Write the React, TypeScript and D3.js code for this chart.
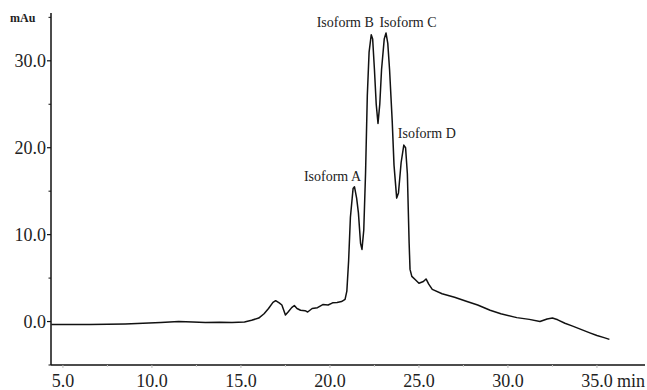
import React from "react";
import * as d3 from "d3";

const timeMin = [
  4.35, 5.5, 6.5, 7.5, 8.5, 9.5, 10.5, 11.5, 12.3, 13.0, 13.8, 14.5, 15.2, 15.6, 16.0, 16.3, 16.55, 16.8, 16.95,
  17.15, 17.3, 17.5, 17.65, 17.85, 18.0, 18.15, 18.35, 18.6, 18.75, 19.0, 19.3, 19.6, 19.9, 20.15, 20.4, 20.65,
  20.85, 20.95, 21.05, 21.15, 21.3, 21.38, 21.5, 21.6, 21.72, 21.8, 21.9, 22.0, 22.1, 22.2, 22.32, 22.4, 22.5,
  22.6, 22.7, 22.8, 22.9, 23.05, 23.15, 23.25, 23.35, 23.5, 23.6, 23.75, 23.85, 24.0, 24.15, 24.25, 24.35, 24.45,
  24.5, 24.6, 24.8, 25.0, 25.25, 25.4, 25.55, 25.75, 26.3, 27.0, 27.7, 28.3, 29.0, 29.6, 30.5, 31.2, 31.8, 32.2,
  32.5, 32.8, 33.2, 33.6, 34.1, 34.6, 35.0, 35.4, 35.7,
];
const absorbance = [
  -0.35, -0.35, -0.33, -0.3, -0.27, -0.2, -0.12, 0.0, -0.05, -0.1, -0.08, -0.12, -0.05, 0.15, 0.4, 0.9, 1.5, 2.2, 2.4,
  2.15, 1.9, 0.75, 1.1, 1.6, 1.85, 1.5, 1.3, 1.25, 1.1, 1.5, 1.6, 1.95, 1.9, 2.15, 2.2, 2.3,
  2.55, 3.5, 7, 12, 15.3, 15.5, 14.2, 12.5, 9, 8.3, 10.5, 17, 26, 31, 33, 32.5, 29,
  25, 22.8, 25, 29, 32.5, 33.2, 32, 29, 23, 18, 14.2, 14.8, 18.3, 20.3, 20, 17, 9,
  6, 5.2, 4.8, 4.4, 4.6, 4.9, 4.3, 3.7, 3.2, 2.8, 2.3, 1.9, 1.3, 0.9, 0.45, 0.25, 0.0, 0.3,
  0.4, 0.2, -0.2, -0.5, -0.9, -1.3, -1.6, -1.85, -2.05,
];

const xTicks = [5, 10, 15, 20, 25, 30, 35];
const xMinorTicks = [7.5, 12.5, 17.5, 22.5, 27.5, 32.5];
const yTicks = [0, 10, 20, 30];
const yMinorTicks = [-5, 5, 15, 25, 35];

const peakLabels = ["Isoform A", "Isoform B", "Isoform C", "Isoform D"];
const peakTimes = [21.38, 22.32, 23.15, 24.15];
const peakValues = [15.5, 33, 33.2, 20.3];

const W = 647;
const H = 390;
const FONT = '"Liberation Serif", "Times New Roman", Times, serif';

export default function App() {
  const x = d3.scaleLinear().domain([4.33, 37.7]).range([51, 645]);
  const y = d3.scaleLinear().domain([-5, 35.5]).range([365, 13]);

  const pts: [number, number][] = timeMin.map((t, i) => [t, absorbance[i]]);
  const line = d3
    .line<[number, number]>()
    .x((d) => x(d[0]))
    .y((d) => y(d[1]))
    .curve(d3.curveLinear);

  const labelOffsets: [number, number][] = [
    [-22, -6],
    [-26, -8],
    [22, -6],
    [23, -7],
  ];

  const ts = { fontFamily: FONT, fill: "#222" } as React.CSSProperties;

  return (
    <svg
      width={W}
      height={H}
      style={{ position: "absolute", left: 0, top: 0, background: "#fff", fontFamily: FONT }}
    >
      <line x1={x.range()[0]} x2={x.range()[0]} y1={y.range()[1]} y2={y.range()[0]} stroke="#111" strokeWidth={1.5} />
      <line x1={x.range()[0]} x2={x.range()[1]} y1={y.range()[0]} y2={y.range()[0]} stroke="#111" strokeWidth={1.5} />

      {yTicks.map((v) => (
        <g key={"yt" + v}>
          <line x1={x.range()[0] - 4} x2={x.range()[0]} y1={y(v)} y2={y(v)} stroke="#111" strokeWidth={1.2} />
          <text x={x.range()[0] - 5} y={y(v) + 6} textAnchor="end" style={{ ...ts, fontSize: 18 }}>
            {v.toFixed(1)}
          </text>
        </g>
      ))}
      {yMinorTicks.map((v) => (
        <line key={"ym" + v} x1={x.range()[0] - 2.5} x2={x.range()[0]} y1={y(v)} y2={y(v)} stroke="#111" strokeWidth={1} />
      ))}
      <text x={10} y={22} style={{ ...ts, fontSize: 12, fontWeight: "bold" }}>
        mAu
      </text>

      {xTicks.map((v) => (
        <g key={"xt" + v}>
          <line x1={x(v)} x2={x(v)} y1={y.range()[0]} y2={y.range()[0] + 3} stroke="#bbb" strokeWidth={1} />
          <text x={x(v)} y={387} textAnchor="middle" style={{ ...ts, fontSize: 18 }}>
            {v.toFixed(1)}
          </text>
        </g>
      ))}
      {xMinorTicks.map((v) => (
        <line key={"xm" + v} x1={x(v)} x2={x(v)} y1={y.range()[0]} y2={y.range()[0] + 2} stroke="#ccc" strokeWidth={1} />
      ))}
      <text x={x(35) + 20} y={387} style={{ ...ts, fontSize: 18 }}>
        min
      </text>

      <path d={line(pts) ?? ""} fill="none" stroke="#111" strokeWidth={1.5} strokeLinejoin="round" />

      {peakLabels.map((lab, i) => (
        <text
          key={lab}
          x={x(peakTimes[i]) + labelOffsets[i][0]}
          y={y(peakValues[i]) + labelOffsets[i][1]}
          textAnchor="middle"
          style={{ ...ts, fontSize: 14 }}
        >
          {lab}
        </text>
      ))}
    </svg>
  );
}
